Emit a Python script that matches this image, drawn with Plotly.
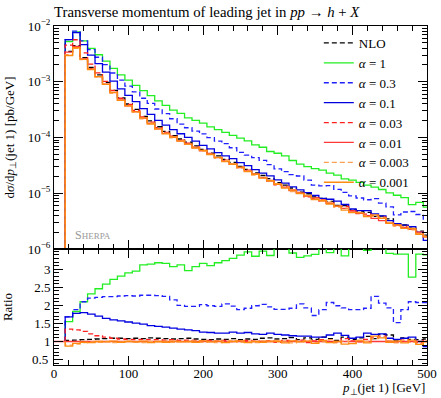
import plotly.graph_objects as go

# ---- data -------------------------------------------------------------
bin_edges = [15, 25, 35, 45, 55, 65, 75, 85, 95, 105, 115, 125, 135, 145, 155,
             165, 175, 185, 195, 205, 215, 225, 235, 245, 255, 265, 275, 285,
             295, 305, 315, 325, 335, 345, 355, 365, 375, 385, 395, 405, 415,
             425, 435, 445, 455, 465, 475, 485, 495, 505]

# reference spectrum (alpha = 0.01), pb/GeV
ref_spectrum = [3.40e-3, 4.29e-3, 2.58e-3, 1.71e-3, 1.24e-3, 9.06e-4, 6.41e-4,
                4.73e-4, 3.69e-4, 2.92e-4, 2.22e-4, 1.80e-4, 1.43e-4, 1.19e-4,
                1.01e-4, 8.71e-5, 7.59e-5, 6.61e-5, 5.75e-5, 5.01e-5, 4.37e-5,
                3.80e-5, 3.31e-5, 2.88e-5, 2.51e-5, 2.19e-5, 1.91e-5, 1.66e-5,
                1.45e-5, 1.29e-5, 1.12e-5, 1.00e-5, 8.91e-6, 8.13e-6, 7.24e-6,
                6.61e-6, 5.89e-6, 5.37e-6, 4.79e-6, 4.37e-6, 3.98e-6, 3.55e-6,
                3.24e-6, 2.95e-6, 2.69e-6, 2.45e-6, 2.24e-6, 2.00e-6, 1.66e-6]

ratio_nlo = [1.03, 1.04, 1.05, 1.06, 1.07, 1.08, 1.09, 1.09, 1.08, 1.09, 1.08,
             1.10, 1.09, 1.08, 1.07, 1.08, 1.09, 1.07, 1.06, 1.05, 1.07, 1.06,
             1.08, 1.05, 1.07, 1.06, 1.09, 1.10, 1.07, 1.08, 1.11, 1.05, 1.10,
             1.06, 1.12, 1.08, 1.03, 1.12, 1.06, 1.10, 1.14, 1.08, 1.20, 1.18,
             1.04, 1.10, 1.06, 1.05, 1.07]
ratio_a1 = [1.55, 1.83, 2.10, 2.32, 2.46, 2.59, 2.72, 2.81, 2.90, 2.95, 3.12,
            3.14, 3.18, 3.16, 3.07, 3.12, 2.96, 3.07, 3.16, 3.10, 3.18, 3.24,
            3.30, 3.39, 3.48, 3.36, 3.50, 3.38, 3.60, 3.62, 3.45, 3.33, 3.37,
            3.41, 3.60, 3.46, 3.60, 3.37, 3.60, 3.58, 3.52, 3.62, 3.60, 3.44,
            3.42, 3.42, 2.78, 3.42, 3.40]
ratio_a03 = [1.68, 1.88, 2.10, 2.20, 2.22, 2.24, 2.24, 2.26, 2.27, 2.26, 2.28,
             2.28, 2.27, 2.25, 2.15, 2.00, 1.97, 1.97, 2.02, 1.99, 1.97, 2.04,
             1.98, 1.88, 1.92, 1.99, 2.03, 1.96, 1.89, 1.89, 1.92, 2.04, 1.93,
             1.72, 1.88, 2.08, 1.99, 1.93, 1.88, 1.88, 1.92, 2.25, 2.06, 1.93,
             1.52, 1.88, 2.10, 2.08, 2.08]
ratio_a01 = [1.68, 1.78, 1.80, 1.76, 1.70, 1.64, 1.60, 1.57, 1.54, 1.51, 1.48,
             1.44, 1.42, 1.40, 1.37, 1.34, 1.32, 1.30, 1.26, 1.25, 1.23, 1.23,
             1.26, 1.23, 1.25, 1.21, 1.20, 1.23, 1.20, 1.18, 1.16, 1.15, 1.15,
             1.12, 1.12, 1.18, 1.23, 1.17, 1.09, 1.12, 1.23, 1.20, 1.21, 1.09,
             1.06, 1.09, 1.12, 1.00, 0.86]
ratio_a003 = [1.34, 1.32, 1.28, 1.21, 1.16, 1.12, 1.09, 1.07, 1.06, 1.05, 1.06,
              1.05, 1.05, 1.04, 1.05, 1.03, 1.04, 1.03, 1.02, 1.03, 1.01, 1.03,
              1.00, 1.02, 1.03, 1.01, 1.00, 1.02, 0.98, 1.03, 1.01, 1.04, 0.97,
              1.02, 1.05, 1.00, 0.98, 1.08, 1.02, 0.99, 1.06, 1.12, 1.15, 1.01,
              0.98, 1.04, 1.00, 0.97, 1.03]
ratio_a001 = [1.00] * 49
ratio_a0003 = [0.90, 0.93, 0.97, 0.99, 0.98, 1.00, 0.97, 0.99, 1.01, 0.98, 0.97,
               1.00, 0.99, 1.01, 0.98, 1.00, 0.99, 1.02, 0.98, 1.00, 0.97, 1.01,
               1.03, 0.98, 1.00, 0.97, 1.02, 0.99, 1.03, 1.01, 0.96, 1.00, 1.04,
               0.97, 0.99, 1.05, 0.96, 1.01, 0.95, 1.04, 1.00, 1.08, 1.12, 1.02,
               0.96, 1.03, 0.98, 0.95, 1.02]
ratio_a0001 = [0.87, 0.95, 0.98, 0.97, 1.00, 0.99, 1.01, 0.98, 1.00, 0.99, 1.01,
               0.97, 1.00, 0.98, 1.01, 0.99, 1.00, 0.98, 1.02, 0.99, 1.01, 0.97,
               1.00, 1.02, 0.97, 1.00, 0.98, 1.01, 1.00, 0.96, 1.02, 0.99, 1.01,
               0.95, 1.03, 0.97, 1.00, 0.93, 0.94, 1.02, 0.96, 1.15, 1.10, 0.98,
               1.01, 0.96, 1.04, 0.92, 0.99]

series_names = ["NLO", "<i>α</i> = 1", "<i>α</i> = 0.3", "<i>α</i> = 0.1",
                "<i>α</i> = 0.03", "<i>α</i> = 0.01", "<i>α</i> = 0.003",
                "<i>α</i> = 0.001"]
series_ratios = [ratio_nlo, ratio_a1, ratio_a03, ratio_a01, ratio_a003,
                 ratio_a001, ratio_a0003, ratio_a0001]
series_colors = ["#000000", "#22ee22", "#2020ff", "#0000e0", "#ff2020",
                 "#ff3838", "#ffa050", "#ff8a10"]
series_dash = ["5px,3px", "solid", "5px,3px", "solid", "5px,3px", "solid",
               "5px,3px", "solid"]

ytick_vals = [1e-6, 1e-5, 1e-4, 1e-3, 1e-2]
ytick_text = ["10<sup>−6</sup>", "10<sup>−5</sup>", "10<sup>−4</sup>",
              "10<sup>−3</sup>", "10<sup>−2</sup>"]
rtick_vals = [0.5, 1.0, 1.5, 2.0, 2.5, 3.0]
rtick_text = ["0.5", "1", "1.5", "2", "2.5", "3"]

# ---- figure -------------------------------------------------------------
FONT = "Liberation Serif"
fig = go.Figure()

for i in range(len(series_names)):
    ratio = series_ratios[i]
    vals = [r * v for r, v in zip(ratio, ref_spectrum)]
    x_main = [bin_edges[0]] + bin_edges
    y_main = [1e-9] + vals + [vals[-1]]
    fig.add_trace(go.Scatter(
        x=x_main, y=y_main, mode="lines", line_shape="hv",
        name=series_names[i], legendrank=i + 1,
        line=dict(color=series_colors[i], width=1.3, dash=series_dash[i]),
        xaxis="x", yaxis="y", hoverinfo="skip"))
    if i == 5:
        x_r = [0] + bin_edges
    else:
        x_r = [bin_edges[0]] + bin_edges
    y_r = [1.0] + ratio + [ratio[-1]]
    fig.add_trace(go.Scatter(
        x=x_r, y=y_r, mode="lines", line_shape="hv", showlegend=False,
        line=dict(color=series_colors[i], width=1.3, dash=series_dash[i]),
        xaxis="x2", yaxis="y2", hoverinfo="skip"))

split = 116 / 339
axis_common = dict(showline=True, linecolor="black", linewidth=1,
                   mirror="allticks", ticks="inside", tickcolor="black",
                   showgrid=False, zeroline=False, automargin=False)
minor_x = dict(dtick=20, ticks="inside", ticklen=5, tickcolor="black")

# the lowest ratio label is written as an annotation (plotly hides it at the
# corner), so the axis itself carries an empty label for that tick
axis_rtick_text = [""] + rtick_text[1:]
low_tick_labels = [dict(text=t, xref="paper", yref="y2", x=0, y=v,
                        xanchor="right", yanchor="middle", xshift=-4,
                        showarrow=False, font=dict(family=FONT, size=13))
                   for v, t in zip(rtick_vals[:1], rtick_text[:1])]

fig.update_layout(
    width=441, height=398,
    margin=dict(l=54, r=14, t=26, b=33),
    paper_bgcolor="white", plot_bgcolor="white",
    font=dict(family=FONT, size=13, color="black"),
    title=dict(text="Transverse momentum of leading jet in <i>pp</i> → <i>h</i> + <i>X</i>",
               font=dict(family=FONT, size=14.8), xref="paper", x=0,
               xanchor="left", yref="container", y=1 - 12 / 398,
               yanchor="middle"),
    xaxis=dict(domain=[0, 1], range=[0, 500], anchor="y", matches="x2",
               showticklabels=False, dtick=100, ticklen=9, minor=minor_x,
               **axis_common),
    xaxis2=dict(domain=[0, 1], range=[0, 500], anchor="y2", dtick=100,
                ticklen=9, minor=minor_x, tickfont=dict(size=13),
                ticklabelstandoff=-4,
                **axis_common),
    yaxis=dict(domain=[split, 1], type="log", range=[-6, -2], anchor="x",
               tickvals=ytick_vals, ticktext=ytick_text, ticklen=9,
               tickfont=dict(size=13),
               minor=dict(ticks="inside", ticklen=5, tickcolor="black",
                          tickvals=[m * 10 ** e for e in range(-6, -2)
                                    for m in range(2, 10)]),
               title=dict(text="d<i>σ</i>/d<i>p</i><sub>⊥</sub>(jet 1) [pb/GeV]",
                          font=dict(size=13), standoff=10),
               **axis_common),
    yaxis2=dict(domain=[0, split], range=[0.35, 3.56], anchor="x2",
                tickmode="array", tickvals=rtick_vals,
                ticktext=axis_rtick_text,
                ticklen=9, tickfont=dict(size=13),
                minor=dict(ticks="inside", ticklen=5, tickcolor="black",
                           tickmode="array",
                           tickvals=[0.4, 0.6, 0.7, 0.8, 0.9, 1.1, 1.2, 1.3,
                                     1.4, 1.6, 1.7, 1.8, 1.9, 2.1, 2.2, 2.3,
                                     2.4, 2.6, 2.7, 2.8, 2.9, 3.1, 3.2, 3.3,
                                     3.4, 3.5]),
                title=dict(text="Ratio", font=dict(size=13), standoff=18),
                **axis_common),
    legend=dict(x=0.71, xanchor="left", y=(339 - 2) / 339, yanchor="top",
                bgcolor="rgba(0,0,0,0)", font=dict(family=FONT, size=13),
                traceorder="normal", itemwidth=30),
    annotations=[
        dict(text="S<span style='font-size:9px'>HERPA</span>", xref="x",
             yref="y", x=25, y=-5.75, xanchor="left", yanchor="middle",
             showarrow=False, font=dict(family=FONT, size=12, color="#999999")),
        dict(text="<i>p</i><sub>⊥</sub>(jet 1) [GeV]", xref="paper",
             yref="paper", x=1, y=-23 / 339, xanchor="right", yanchor="middle",
             showarrow=False, font=dict(family=FONT, size=13)),
    ] + low_tick_labels,
)

fig.write_html("out.html", config={"displayModeBar": False},
               post_script="document.body.style.margin='0px';"
                           "document.body.style.padding='0px';")
